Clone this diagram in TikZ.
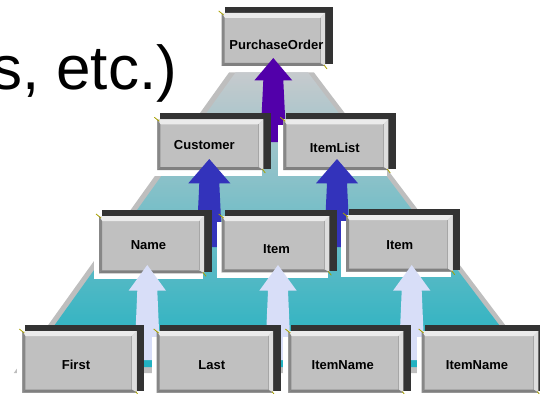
\documentclass[tikz,border=0pt]{standalone}
\usepackage{fontspec}
\setmainfont{Liberation Sans}
\usetikzlibrary{calc}

\definecolor{boxgray}{HTML}{C0C0C0}
\definecolor{boxdark}{HTML}{333333}
\definecolor{rimgray}{HTML}{BEBEBE}
\definecolor{tiertop}{HTML}{C6CACD}
\definecolor{tiermid}{HTML}{7EB7BE}
\definecolor{tierbot}{HTML}{1FB1C1}
\definecolor{rootarrow}{HTML}{5200AA}
\definecolor{midarrow}{HTML}{3333BB}
\definecolor{leafarrow}{HTML}{D8DEF8}
\definecolor{handle}{HTML}{A8A000}

\tikzset{
  elem/.style={rectangle, fill=boxgray, inner sep=0pt, outer sep=0pt},
  elemtext/.style={font=\bfseries\fontsize{13}{15}\selectfont, inner sep=0pt},
}

% raised element box: name, x0, y0, x1, y1, text shift, text
\newcommand{\elembox}[7]{%
  \fill[boxdark] ({#2+3},{#3-6}) rectangle ({#4+7.5},{#5-1.5});
  \fill[white] ({#2-5},{#3+6}) rectangle ({#4-1.5},{#5+5.5});
  \node[elem, minimum width={#4-#2}, minimum height={#5-#3}] (#1)
    at ({(#2+#4)/2},{(#3+#5)/2}) {};
  \fill[black!8] (#1.north west) -- (#1.north east) -- ($(#1.north east)+(-5,5)$)
    -- ($(#1.north west)+(3,5)$) -- cycle;
  \fill[black!13] (#1.north east) -- (#1.south east) -- ($(#1.south east)+(-5,-3)$)
    -- ($(#1.north east)+(-5,5)$) -- cycle;
  \draw[black!35, line width=0.6] ($(#1.north east)+(-5,5)$) -- ($(#1.south east)+(-5,-3)$);
  \fill[black!47] (#1.north west) -- ($(#1.north west)+(3,5)$)
    -- ($(#1.south west)+(3,-3)$) -- (#1.south west) -- cycle;
  \fill[black!50] (#1.south west) -- (#1.south east) -- ($(#1.south east)+(-5,-3)$)
    -- ($(#1.south west)+(3,-3)$) -- cycle;
  \draw[handle, line width=0.8] ($(#1.north west)+(-3,-2)$) -- ($(#1.north west)+(2,2)$);
  \draw[handle, line width=0.8] ($(#1.south east)+(-1,-1)$) -- ($(#1.south east)+(2,3)$);
  \node[elemtext] (#1-text) at ($(#1.center)+(#6)$) {#7};
}

% fat upward arrow: colour, from, to, head half width, head length
\newcommand{\blockarrow}[5]{%
  \fill[#1] let \p1=(#2), \p2=(#3) in
    (\x2,\y2) -- ({\x2+#4pt},{\y2-#5pt}) -- ({\x2+10pt},{\y2-#5pt})
    -- ({\x1+13pt},\y1) -- ({\x1-13pt},\y1)
    -- ({\x2-10pt},{\y2-#5pt}) -- ({\x2-#4pt},{\y2-#5pt}) -- cycle;
}

\begin{document}
\begin{tikzpicture}[x=1pt, y=-1pt]
  \useasboundingbox (0,0) rectangle (540,393);
  \clip (0,0) rectangle (540,393);

  \node[anchor=base west, inner sep=0pt, font=\fontsize{62}{70}\selectfont]
    (tail) at (-9.1,89.5) {s, etc.)};

  % the platform
  \fill[rimgray] (229,72.5) -- (314,72.5) -- (541.5,373) -- (13.8,373) -- cycle;
  \shade[top color=tiertop, middle color=tiermid, bottom color=tierbot]
    (235.5,72.5) -- (308,72.5) -- (531,367) -- (24.6,367) -- cycle;

  % root
  \elembox{po}{221.7}{13}{325}{66}{3,5.5}{PurchaseOrder}
  \coordinate (rootgap) at (273.3,142);
  \blockarrow{rootarrow}{rootgap}{$(rootgap |- po.south)+(0,-8)$}{19}{22.5}

  % second level
  \elembox{customer}{157.3}{119.3}{263.3}{170}{-6,0.5}{Customer}
  \elembox{itemlist}{283.3}{119.3}{388.3}{170}{-1,3}{ItemList}
  \coordinate (custgap) at (209.3,247);
  \coordinate (listgap) at (337,247);
  \blockarrow{midarrow}{custgap}{$(custgap |- customer.south)+(0,-11)$}{21}{24.3}
  \blockarrow{midarrow}{listgap}{$(listgap |- itemlist.south)+(0,-11)$}{21}{24.3}

  % third level
  \elembox{name}{99}{216}{204}{273.3}{-3,0.5}{Name}
  \elembox{itemA}{221.7}{216}{329.3}{272.3}{1,4.5}{Item}
  \elembox{itemB}{346}{215}{452.7}{271.7}{0.5,2}{Item}
  \coordinate (namegap) at (147.3,360);
  \coordinate (itemgapA) at (278,360);
  \coordinate (itemgapB) at (411.7,360);
  \blockarrow{leafarrow}{namegap}{$(namegap |- name.south)+(0,-8.3)$}{18.7}{25.7}
  \blockarrow{leafarrow}{itemgapA}{$(itemgapA |- itemA.south)+(0,-7.3)$}{18.7}{25.7}
  \blockarrow{leafarrow}{itemgapB}{$(itemgapB |- itemB.south)+(0,-6.7)$}{18.7}{25.7}

  % leaves
  \elembox{first}{22.3}{331}{136.7}{392.5}{-3.5,3.5}{First}
  \elembox{last}{156.7}{331}{273}{392.5}{-3,3.5}{Last}
  \elembox{itemnameA}{288.3}{331}{403.3}{392.5}{-3,3.5}{ItemName}
  \elembox{itemnameB}{421.7}{331}{538.3}{392.5}{-3,3.5}{ItemName}

\end{tikzpicture}
\end{document}
